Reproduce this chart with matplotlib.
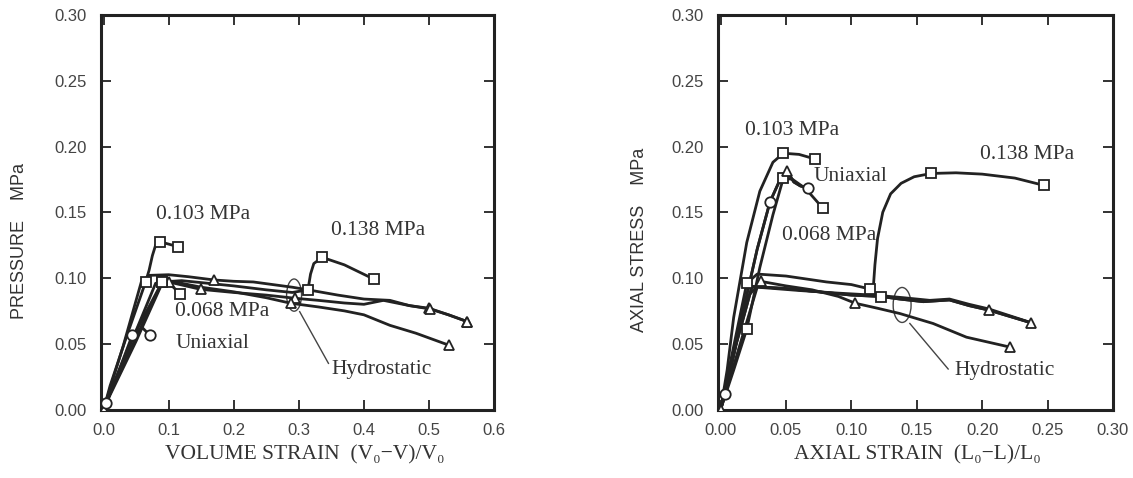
import matplotlib.pyplot as plt
from matplotlib.patches import Ellipse

# ---- left panel: pressure vs volume strain ----
vs_103_x = [0, 0.01, 0.035, 0.0646, 0.070, 0.075, 0.080, 0.0866, 0.1145]
vs_103_y = [0, 0.018, 0.055, 0.097, 0.106, 0.117, 0.125, 0.1276, 0.1238]
vs_138_x = [0, 0.01, 0.045, 0.09, 0.12, 0.16, 0.20, 0.25, 0.29, 0.314, 0.318, 0.323, 0.336, 0.37, 0.415]
vs_138_y = [0, 0.013, 0.055, 0.097, 0.098, 0.096, 0.094, 0.091, 0.089, 0.091, 0.103, 0.111, 0.1157, 0.110, 0.0992]
vs_068_x = [0, 0.01, 0.05, 0.09, 0.105, 0.118]
vs_068_y = [0, 0.012, 0.055, 0.097, 0.094, 0.088]
vs_uni_x = [0, 0.0035, 0.02, 0.0443, 0.06, 0.0707]
vs_uni_y = [0, 0.005, 0.025, 0.0567, 0.062, 0.0567]
vs_h1_x = [0, 0.01, 0.03, 0.058, 0.07, 0.10, 0.13, 0.17, 0.20, 0.23, 0.26, 0.29, 0.32, 0.36, 0.40, 0.44, 0.47, 0.50, 0.53, 0.559]
vs_h1_y = [0, 0.016, 0.048, 0.097, 0.102, 0.1025, 0.101, 0.0985, 0.0975, 0.097, 0.095, 0.093, 0.0905, 0.087, 0.084, 0.083, 0.079, 0.077, 0.072, 0.0668]
vs_h2_x = [0, 0.01, 0.04, 0.08, 0.10, 0.149, 0.20, 0.25, 0.294, 0.33, 0.37, 0.40, 0.43, 0.47, 0.501, 0.53, 0.559]
vs_h2_y = [0, 0.012, 0.048, 0.096, 0.097, 0.0914, 0.089, 0.087, 0.0846, 0.083, 0.081, 0.080, 0.083, 0.079, 0.0765, 0.072, 0.0668]
vs_h3_x = [0, 0.01, 0.05, 0.09, 0.11, 0.15, 0.20, 0.25, 0.2875, 0.33, 0.37, 0.40, 0.44, 0.48, 0.53]
vs_h3_y = [0, 0.011, 0.052, 0.096, 0.097, 0.093, 0.0895, 0.085, 0.0808, 0.078, 0.075, 0.072, 0.064, 0.058, 0.049]

# ---- right panel: axial stress vs axial strain ----
as_103_x = [0, 0.005, 0.01, 0.02, 0.03, 0.04, 0.048, 0.06, 0.0722]
as_103_y = [0, 0.03, 0.07, 0.127, 0.166, 0.188, 0.1949, 0.194, 0.1905]
as_068_x = [0, 0.01, 0.02, 0.03, 0.04, 0.048, 0.055, 0.065, 0.078]
as_068_y = [0, 0.03, 0.061, 0.108, 0.148, 0.176, 0.175, 0.168, 0.1533]
as_uni_x = [0, 0.0034, 0.015, 0.028, 0.0378, 0.046, 0.051, 0.056, 0.061, 0.067]
as_uni_y = [0, 0.0115, 0.065, 0.122, 0.158, 0.176, 0.181, 0.173, 0.17, 0.1685]
as_138_x = [0, 0.01, 0.02, 0.028, 0.05, 0.081, 0.10, 0.1146, 0.117, 0.118, 0.12, 0.124, 0.13, 0.138, 0.148, 0.161, 0.18, 0.20, 0.225, 0.247]
as_138_y = [0, 0.048, 0.096, 0.103, 0.1015, 0.097, 0.095, 0.0915, 0.096, 0.11, 0.13, 0.15, 0.164, 0.172, 0.177, 0.1795, 0.18, 0.179, 0.176, 0.1705]
as_h1_x = [0, 0.01, 0.02, 0.031, 0.05, 0.07, 0.09, 0.103, 0.12, 0.137, 0.1625, 0.188, 0.2215]
as_h1_y = [0, 0.045, 0.085, 0.0974, 0.094, 0.091, 0.086, 0.0808, 0.077, 0.073, 0.0654, 0.055, 0.0474]
as_h2_x = [0, 0.012, 0.024, 0.05, 0.08, 0.10, 0.123, 0.137, 0.155, 0.175, 0.19, 0.205, 0.2375]
as_h2_y = [0, 0.05, 0.0936, 0.092, 0.089, 0.087, 0.0859, 0.084, 0.082, 0.0833, 0.079, 0.0756, 0.0659]
as_h3_x = [0, 0.015, 0.028, 0.06, 0.09, 0.12, 0.14, 0.16, 0.175, 0.19, 0.205, 0.2375]
as_h3_y = [0, 0.05, 0.093, 0.0905, 0.0885, 0.0868, 0.085, 0.083, 0.084, 0.080, 0.0765, 0.066]

INK = '#222222'
TXT = '#333333'
SERIF = ['Liberation Serif', 'DejaVu Serif']
SANS = ['Liberation Sans', 'DejaVu Sans']


def curve(ax, x, y, marker=None, marks=None):
    ax.plot(x, y, color=INK, lw=2.0, solid_capstyle='round', zorder=2)
    if marker:
        xs = [x[i] for i in marks]
        ys = [y[i] for i in marks]
        ax.plot(xs, ys, ls='none', marker=marker, ms=7.5, mfc='white',
                mec=INK, mew=1.3, zorder=3)


def style(ax, xmax, xstep, xfmt):
    ax.set_xlim(-0.002 * xmax / 0.3, xmax)
    ax.set_ylim(0, 0.30)
    ax.set_xticks([i * xstep for i in range(7)])
    ax.set_xticklabels([xfmt.format(i * xstep) for i in range(7)])
    ax.set_yticks([0, 0.05, 0.10, 0.15, 0.20, 0.25, 0.30])
    ax.set_yticklabels(['0.00', '0.05', '0.10', '0.15', '0.20', '0.25', '0.30'])
    ax.tick_params(direction='in', top=True, right=True, length=7, width=1.3,
                   color=INK, labelsize=12, labelcolor='#444444')
    ax.tick_params(axis='x', pad=10)
    ax.tick_params(axis='y', pad=10)
    for lab in ax.get_xticklabels() + ax.get_yticklabels():
        lab.set_family(SANS)
    for s in ax.spines.values():
        s.set_linewidth(2.2)
        s.set_color(INK)


fig = plt.figure(figsize=(11.33, 4.78), dpi=100)

# left panel
ax1 = fig.add_axes([0.0891, 0.1433, 0.347, 0.8253])
curve(ax1, vs_h1_x, vs_h1_y, '^', [0, 7, 17, 19])
curve(ax1, vs_h2_x, vs_h2_y, '^', [4, 5, 8, 14, 16])
curve(ax1, vs_h3_x, vs_h3_y, '^', [8, 14])
curve(ax1, vs_138_x, vs_138_y, 's', [3, 9, 12, 14])
curve(ax1, vs_068_x, vs_068_y, 's', [3, 5])
curve(ax1, vs_103_x, vs_103_y, 's', [3, 7, 8])
curve(ax1, vs_uni_x, vs_uni_y, 'o', [1, 3, 5])
style(ax1, 0.6, 0.1, '{:.1f}')
ax1.add_patch(Ellipse((0.2927, 0.087), 0.023, 0.0245, fill=False, lw=1.0, ec='#444444'))
ax1.plot([0.3013, 0.3455], [0.0744, 0.0351], color='#444444', lw=1.0)
ax1.text(0.0799, 0.148, '0.103 MPa', family=SERIF, fontsize=15.5, color=TXT, va='center')
ax1.text(0.3497, 0.1365, '0.138 MPa', family=SERIF, fontsize=15.5, color=TXT, va='center')
ax1.text(0.1094, 0.0744, '0.068 MPa', family=SERIF, fontsize=15.5, color=TXT, va='center')
ax1.text(0.1104, 0.0503, 'Uniaxial', family=SERIF, fontsize=15.5, color=TXT, va='center')
ax1.text(0.3497, 0.0302, 'Hydrostatic', family=SERIF, fontsize=15.5, color=TXT, va='center')
fig.text(165 / 1133, 1 - 455 / 478, 'VOLUME STRAIN  (V\u2080\u2212V)/V\u2080', family=SERIF,
         fontsize=15.5, color=TXT, ha='left', va='center')
fig.text(20 / 1133, 1 - 241 / 478, 'PRESSURE    MPa', family=SANS, fontsize=13,
         color=TXT, rotation=90, ha='center', va='center')

# right panel
ax2 = fig.add_axes([0.6337, 0.1433, 0.3486, 0.8253])
curve(ax2, as_h3_x, as_h3_y)
curve(ax2, as_h1_x, as_h1_y, '^', [0, 3, 7, 12])
curve(ax2, as_h2_x, as_h2_y, 's', [6])
curve(ax2, as_h2_x, as_h2_y, '^', [11, 12])
curve(ax2, as_138_x, as_138_y, 's', [2, 7, 15, 19])
curve(ax2, as_068_x, as_068_y, 's', [2, 5, 8])
curve(ax2, as_uni_x, as_uni_y, 'o', [1, 4, 9])
curve(ax2, as_uni_x, as_uni_y, '^', [6])
curve(ax2, as_103_x, as_103_y, 's', [6, 8])
style(ax2, 0.3, 0.05, '{:.2f}')
ax2.add_patch(Ellipse((0.1388, 0.0795), 0.0137, 0.0266, fill=False, lw=1.0, ec='#444444'))
ax2.plot([0.1447, 0.174], [0.0654, 0.0308], color='#444444', lw=1.0)
ax2.text(0.0187, 0.212, '0.103 MPa', family=SERIF, fontsize=15.5, color=TXT, va='center')
ax2.text(0.198, 0.194, '0.138 MPa', family=SERIF, fontsize=15.5, color=TXT, va='center')
ax2.text(0.0709, 0.177, 'Uniaxial', family=SERIF, fontsize=15.5, color=TXT, va='center')
ax2.text(0.0467, 0.132, '0.068 MPa', family=SERIF, fontsize=15.5, color=TXT, va='center')
ax2.text(0.179, 0.0295, 'Hydrostatic', family=SERIF, fontsize=15.5, color=TXT, va='center')
fig.text(917 / 1133, 1 - 455 / 478, 'AXIAL STRAIN  (L\u2080\u2212L)/L\u2080', family=SERIF,
         fontsize=15.5, color=TXT, ha='center', va='center')
fig.text(639 / 1133, 1 - 240 / 478, 'AXIAL STRESS    MPa', family=SANS, fontsize=13,
         color=TXT, rotation=90, ha='center', va='center')

plt.savefig('out.png', dpi=100)
